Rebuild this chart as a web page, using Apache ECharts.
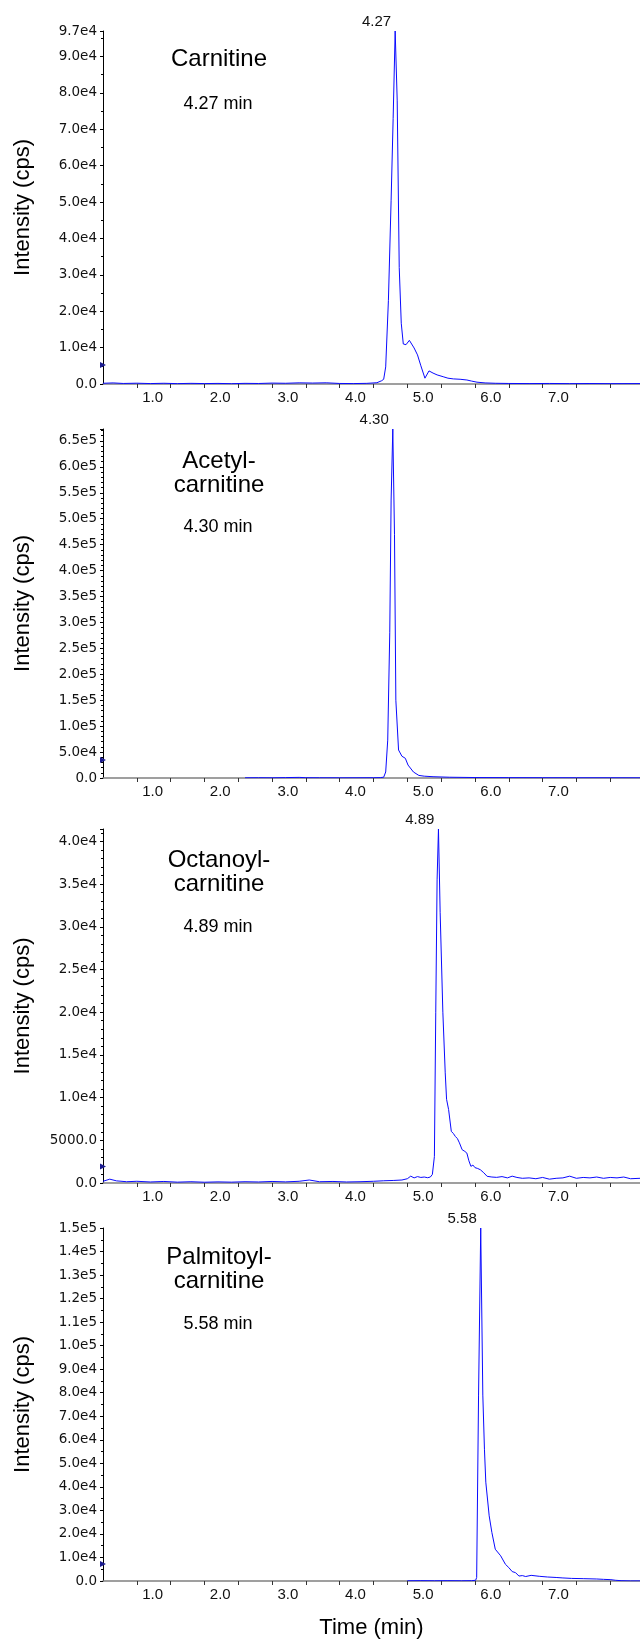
<!DOCTYPE html>
<html>
<head>
<meta charset="utf-8">
<script src="https://cdn.jsdelivr.net/npm/echarts@6/dist/echarts.min.js"></script>
<style>
html,body{margin:0;padding:0;background:#fff;}
#chart{width:640px;height:1640px;}
</style>
</head>
<body>
<div id="chart"></div>
<script>
// ---- data (time in min, intensity in cps) ----
const compoundNames = ['Carnitine', 'Acetyl-\ncarnitine', 'Octanoyl-\ncarnitine', 'Palmitoyl-\ncarnitine'];
const retentionLabels = ['4.27 min', '4.30 min', '4.89 min', '5.58 min'];
const peakLabels = ['4.27', '4.30', '4.89', '5.58'];
const peakTimes = [4.32, 4.285, 4.96, 5.585];
const peakValues = [97000, 673000, 41450, 150000];
const yMax = [97000, 673000, 41450, 150000];
const yInterval = [10000, 50000, 5000, 10000];
const yMinorSplit = [2, 5, 5, 2];
const markerLevels = [5200, 34700, 1940, 7250];
const xMin = 0, xMax = 7.94, xInterval = 0.5;

const carnitine = [
  [0.00,200],[0.15,300],[0.30,150],[0.50,220],[0.70,120],[0.90,200],[1.10,100],[1.30,180],
  [1.50,120],[1.70,160],[1.90,90],[2.10,180],[2.30,140],[2.50,250],[2.70,200],[2.90,320],
  [3.10,260],[3.30,330],[3.50,150],[3.70,120],[3.90,180],[4.05,350],[4.12,900],[4.15,1300],
  [4.18,4700],[4.22,23000],[4.26,50500],[4.29,73000],[4.32,97000],[4.35,78000],[4.38,32000],
  [4.41,16700],[4.44,11000],[4.48,10800],[4.53,12000],[4.60,9900],[4.65,8000],[4.70,5000],
  [4.76,1600],[4.82,3600],[4.88,3000],[4.94,2500],[5.03,2000],[5.10,1600],[5.18,1400],
  [5.28,1300],[5.38,1100],[5.45,800],[5.53,500],[5.65,300],[5.80,200],[6.00,150],[6.30,120],
  [6.60,150],[6.90,100],[7.20,130],[7.50,100],[7.94,120]
];
const acetylcarnitine = [
  [2.10,400],[2.30,600],[2.50,400],[2.70,800],[2.90,1200],[3.00,600],[3.20,500],[3.50,400],
  [3.80,500],[4.00,600],[4.10,800],[4.15,1500],[4.18,11600],[4.21,73000],[4.24,280000],
  [4.26,536000],[4.285,673000],[4.31,470000],[4.33,150000],[4.37,54000],[4.42,42000],
  [4.47,38000],[4.51,25000],[4.59,11600],[4.67,5000],[4.75,3500],[4.88,2500],[5.12,1500],
  [5.50,900],[6.00,700],[6.50,600],[7.00,500],[7.50,500],[7.94,400]
];
const octanoylcarnitine = [
  [0.00,200],[0.10,450],[0.20,250],[0.35,150],[0.50,200],[0.70,120],[0.90,180],[1.10,100],
  [1.30,150],[1.50,90],[1.70,130],[1.90,100],[2.10,150],[2.30,120],[2.50,180],[2.70,130],
  [2.90,200],[3.05,350],[3.20,150],[3.40,180],[3.60,120],[3.80,150],[4.00,200],[4.15,260],
  [4.30,300],[4.42,350],[4.50,500],[4.55,800],[4.60,600],[4.65,750],[4.70,650],[4.75,700],
  [4.80,620],[4.84,700],[4.87,1000],[4.90,3100],[4.92,20000],[4.94,35500],[4.96,41450],
  [4.985,31700],[5.025,20000],[5.06,12900],[5.08,9800],[5.11,8600],[5.15,6050],[5.18,5800],
  [5.21,5450],[5.24,5200],[5.27,4700],[5.31,3900],[5.35,3700],[5.38,3500],[5.41,2600],
  [5.44,1950],[5.47,2100],[5.50,1800],[5.54,1700],[5.58,1550],[5.63,1200],[5.68,780],
  [5.75,700],[5.82,660],[5.90,750],[5.98,600],[6.05,800],[6.12,650],[6.20,550],[6.30,600],
  [6.40,500],[6.50,650],[6.60,450],[6.70,550],[6.80,600],[6.90,800],[7.00,550],[7.10,650],
  [7.20,600],[7.30,700],[7.40,550],[7.50,650],[7.60,600],[7.70,700],[7.80,500],[7.94,550]
];
const palmitoylcarnitine = [
  [4.50,100],[4.70,150],[4.90,100],[5.10,150],[5.30,100],[5.45,150],[5.51,300],[5.525,1500],
  [5.553,79000],[5.585,150000],[5.616,79000],[5.64,56000],[5.66,42000],[5.71,27700],
  [5.75,20600],[5.80,13500],[5.88,10700],[5.95,7100],[6.00,5700],[6.05,4000],[6.10,3550],
  [6.15,2100],[6.20,2300],[6.25,1900],[6.33,2400],[6.45,2000],[6.57,1700],[6.70,1500],
  [6.80,1300],[6.93,1100],[7.10,1000],[7.30,850],[7.40,700],[7.51,570],[7.58,300],
  [7.66,140],[7.80,50],[7.94,50]
];
const seriesData = [carnitine, acetylcarnitine, octanoylcarnitine, palmitoylcarnitine];

// ---- layout ----
const gridTops = [31, 429, 829, 1228];
const gridHeights = [353, 349, 354, 353];
const nameY = [[59], [462, 485], [860, 885], [1257, 1282]];
const rtY = [104, 527, 927, 1324];

const FONT = '"Liberation Sans", Arial, Helvetica, sans-serif';
const TICK_FONT = '"DejaVu Sans", "Liberation Sans", sans-serif';
const LINE_BLUE = '#0a0aff';

function fmtY(v) {
  if (v === 0) return '0.0';
  if (v < 10000) return v.toFixed(1);
  return v.toExponential(1).replace('e+', 'e');
}
function fmtX(v) {
  if (Math.abs(v - Math.round(v)) < 1e-9 && v > 0.5 && v < 7.5) return v.toFixed(1);
  return '';
}

const grids = [], xAxes = [], yAxes = [], series = [], graphics = [];
for (let i = 0; i < 4; i++) {
  grids.push({left: 103, width: 537, top: gridTops[i], height: gridHeights[i], containLabel: false, outerBoundsMode: 'none'});
  xAxes.push({
    type: 'value', gridIndex: i, min: xMin, max: xMax, interval: xInterval,
    name: i === 3 ? 'Time (min)' : '', nameLocation: 'middle', nameGap: 36,
    nameTextStyle: {fontFamily: FONT, fontSize: 22, color: '#000'},
    axisLine: {show: true, onZero: false, lineStyle: {color: '#808080', width: 1.5}},
    axisTick: {show: true, inside: false, length: 4, lineStyle: {color: '#333'}},
    axisLabel: {show: true, formatter: fmtX, fontFamily: FONT, fontSize: 15, color: '#111', margin: 6,
      padding: [0, 36, 0, 0], showMinLabel: false, showMaxLabel: false},
    splitLine: {show: false}
  });
  yAxes.push({
    type: 'value', gridIndex: i, min: 0, max: yMax[i], interval: yInterval[i],
    name: 'Intensity (cps)', nameLocation: 'middle', nameGap: 69, nameRotate: 90,
    nameTextStyle: {fontFamily: FONT, fontSize: 22, color: '#000'},
    axisLine: {show: true, onZero: false, lineStyle: {color: '#000', width: 1}},
    axisTick: {show: true, inside: false, length: 3, lineStyle: {color: '#000'}},
    minorTick: {show: true, splitNumber: yMinorSplit[i], length: 2, lineStyle: {color: '#000'}},
    axisLabel: {show: true, formatter: fmtY, fontFamily: TICK_FONT, fontSize: 13.5, color: '#111', margin: 6,
      showMaxLabel: i === 0 || i === 3, hideOverlap: false},
    splitLine: {show: false}, minorSplitLine: {show: false}
  });
  series.push({
    type: 'line', xAxisIndex: i, yAxisIndex: i, data: seriesData[i],
    showSymbol: false, symbol: 'none', smooth: false, animation: false, clip: true,
    lineStyle: {color: LINE_BLUE, width: 1}, z: 3,
    markPoint: {
      animation: false,
      data: [
        {coord: [peakTimes[i], peakValues[i]], name: peakLabels[i], symbol: 'circle', symbolSize: 1,
          itemStyle: {color: 'rgba(0,0,0,0)'},
          label: {show: true, position: 'top', distance: 1, align: 'right', offset: [-4, 0],
            formatter: peakLabels[i], fontFamily: FONT, fontSize: 15, color: '#111'}},
        {coord: [xMin, markerLevels[i]], name: 'mark', symbol: 'triangle', symbolRotate: -90, symbolSize: [6, 6],
          itemStyle: {color: '#1b1b8f'}, label: {show: false}}
      ]
    }
  });
  graphics.push({
    type: 'text', x: 219, y: nameY[i][0], z: 10,
    style: {text: compoundNames[i], font: '24px ' + FONT, fill: '#000', align: 'center',
      verticalAlign: 'middle', lineHeight: 24}
  });
  graphics.push({
    type: 'text', x: 218, y: rtY[i], z: 10,
    style: {text: retentionLabels[i], font: '18px ' + FONT, fill: '#000', align: 'center', verticalAlign: 'middle'}
  });
}
// multi-line names: centre the two-line block between its two line centres
for (let i = 1; i < 4; i++) {
  graphics[i * 2].y = (nameY[i][0] + nameY[i][1]) / 2;
}

const chart = echarts.init(document.getElementById('chart'), null, {renderer: 'canvas'});
chart.setOption({
  animation: false,
  backgroundColor: '#ffffff',
  grid: grids, xAxis: xAxes, yAxis: yAxes, series: series,
  graphic: graphics
});
</script>
</body>
</html>
